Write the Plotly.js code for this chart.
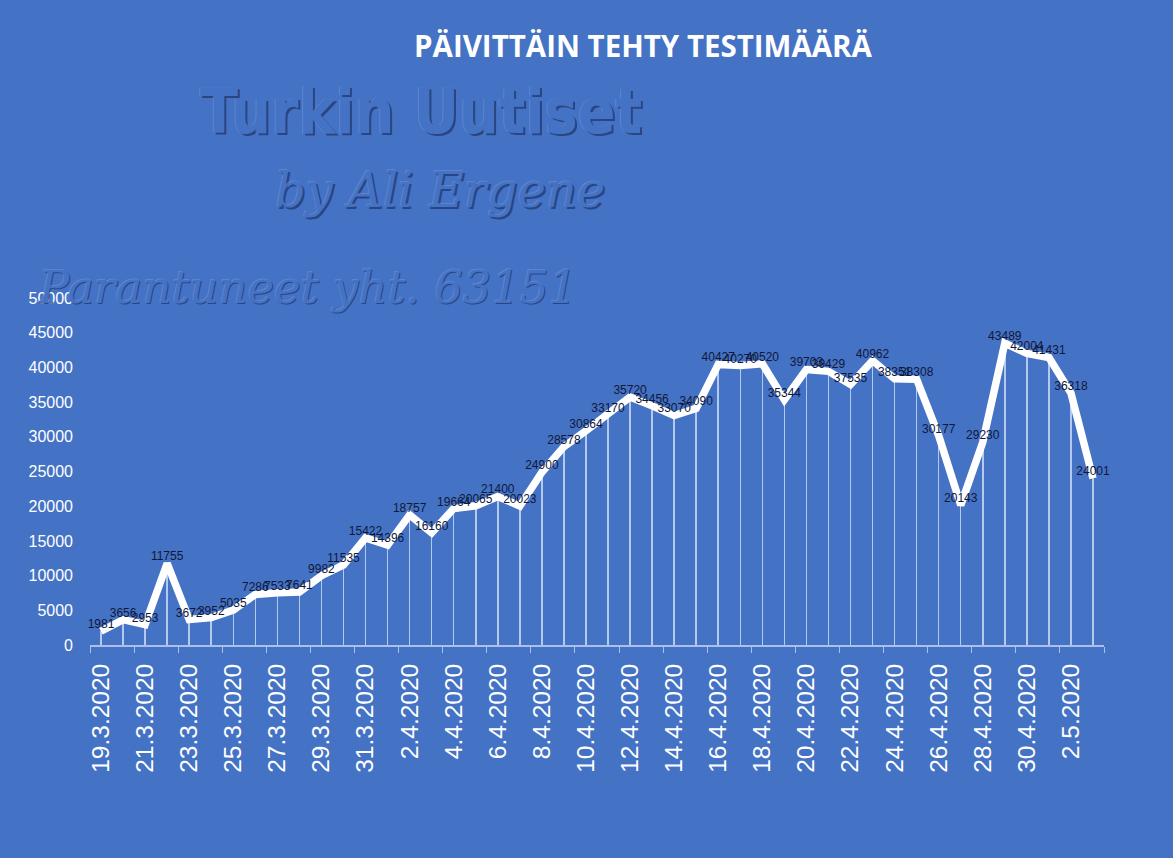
<!DOCTYPE html>
<html>
<head>
<meta charset="utf-8">
<script src="https://cdn.plot.ly/plotly-3.0.1.min.js"></script>
<style>html,body{margin:0;padding:0;background:#4472C4;}#chart{width:1173px;height:858px;}</style>
</head>
<body>
<div id="chart"></div>
<script>
const dates = ["19.3.2020","20.3.2020","21.3.2020","22.3.2020","23.3.2020","24.3.2020","25.3.2020","26.3.2020","27.3.2020","28.3.2020","29.3.2020","30.3.2020","31.3.2020","1.4.2020","2.4.2020","3.4.2020","4.4.2020","5.4.2020","6.4.2020","7.4.2020","8.4.2020","9.4.2020","10.4.2020","11.4.2020","12.4.2020","13.4.2020","14.4.2020","15.4.2020","16.4.2020","17.4.2020","18.4.2020","19.4.2020","20.4.2020","21.4.2020","22.4.2020","23.4.2020","24.4.2020","25.4.2020","26.4.2020","27.4.2020","28.4.2020","29.4.2020","30.4.2020","1.5.2020","2.5.2020","3.5.2020"];
const tests = [1981,3656,2953,11755,3672,3952,5035,7286,7533,7641,9982,11535,15422,14396,18757,16160,19664,20065,21400,20023,24900,28578,30864,33170,35720,34456,33070,34090,40427,40270,40520,35344,39703,39429,37535,40962,38351,38308,30177,20143,29230,43489,42004,41431,36318,24001];
const yTicks = [0,5000,10000,15000,20000,25000,30000,35000,40000,45000,50000];

const W = 1173, H = 858, L = 90, R = 1104, T = 298, B = 645;
const px = x => (x - L) / (R - L);
const py = y => (B - y) / (B - T);

const bg = '#4472C4';
function emboss(text, cx, cy, size, family, italic, bold) {
  const font = (c) => ({family: family, size: size, color: c, weight: bold ? 'bold' : 'normal', style: italic ? 'italic' : 'normal'});
  return [
    {text: text, x: px(cx + 1.5), y: py(cy + 1.5), xref: 'paper', yref: 'paper', showarrow: false, font: font('rgba(25,40,85,0.6)'), xanchor: 'center', yanchor: 'middle'},
    {text: text, x: px(cx - 1), y: py(cy - 1), xref: 'paper', yref: 'paper', showarrow: false, font: font('rgba(140,170,225,0.35)'), xanchor: 'center', yanchor: 'middle'},
    {text: text, x: px(cx), y: py(cy), xref: 'paper', yref: 'paper', showarrow: false, font: font(bg), xanchor: 'center', yanchor: 'middle'}
  ];
}

const annotations = [].concat(
  emboss('Turkin Uutiset', 421, 112, 62, 'DejaVu Sans Condensed, DejaVu Sans', false, true),
  emboss('by Ali Ergene', 440, 190, 48, 'DejaVu Serif', true, false),
  emboss('Parantuneet yht. 63151', 307, 287, 45, 'DejaVu Serif', true, false)
);

const traces = [
  {
    type: 'bar', x: dates, y: tests, width: 0.07,
    marker: {color: 'rgba(230,238,255,0.7)', line: {width: 0}},
    hoverinfo: 'skip', showlegend: false
  },
  {
    type: 'scatter', mode: 'lines+text', x: dates, y: tests,
    text: tests.map(String), textposition: 'top center',
    textfont: {family: 'Liberation Sans, Arial, sans-serif', size: 12, color: '#10183a'},
    line: {color: '#ffffff', width: 7.5},
    cliponaxis: false, showlegend: false
  }
];

const layout = {
  width: W, height: H,
  paper_bgcolor: bg, plot_bgcolor: bg,
  margin: {l: L, r: W - R, t: T, b: H - B},
  title: {text: 'PÄIVITTÄIN TEHTY TESTIMÄÄRÄ', x: 643 / W, y: 1 - 47 / H, xanchor: 'center', yanchor: 'middle', xref: 'container', yref: 'container',
    font: {family: 'Open Sans, sans-serif', size: 29.5, color: '#ffffff', weight: 'bold'}},
  xaxis: {
    type: 'category', dtick: 2, tickangle: -90, tickson: 'boundaries',
    ticks: 'outside', ticklen: 6, tickcolor: '#a9c1ea', tickwidth: 1,
    showline: true, linecolor: '#a9c1ea', linewidth: 2, showgrid: false, zeroline: false,
    ticklabelstandoff: 7,
    tickfont: {family: 'Liberation Sans, Arial, sans-serif', size: 24.5, color: '#ffffff'},
    range: [-0.5, dates.length - 0.5]
  },
  yaxis: {
    range: [0, 50000], tickvals: yTicks, ticktext: yTicks.map(String),
    showgrid: false, zeroline: false, showline: false, ticks: '',
    ticklabelstandoff: 16,
    tickfont: {family: 'Liberation Sans, Arial, sans-serif', size: 16, color: '#ffffff'}
  },
  bargap: 0,
  annotations: annotations
};

Plotly.newPlot('chart', traces, layout, {displayModeBar: false, staticPlot: true});
</script>
</body>
</html>
